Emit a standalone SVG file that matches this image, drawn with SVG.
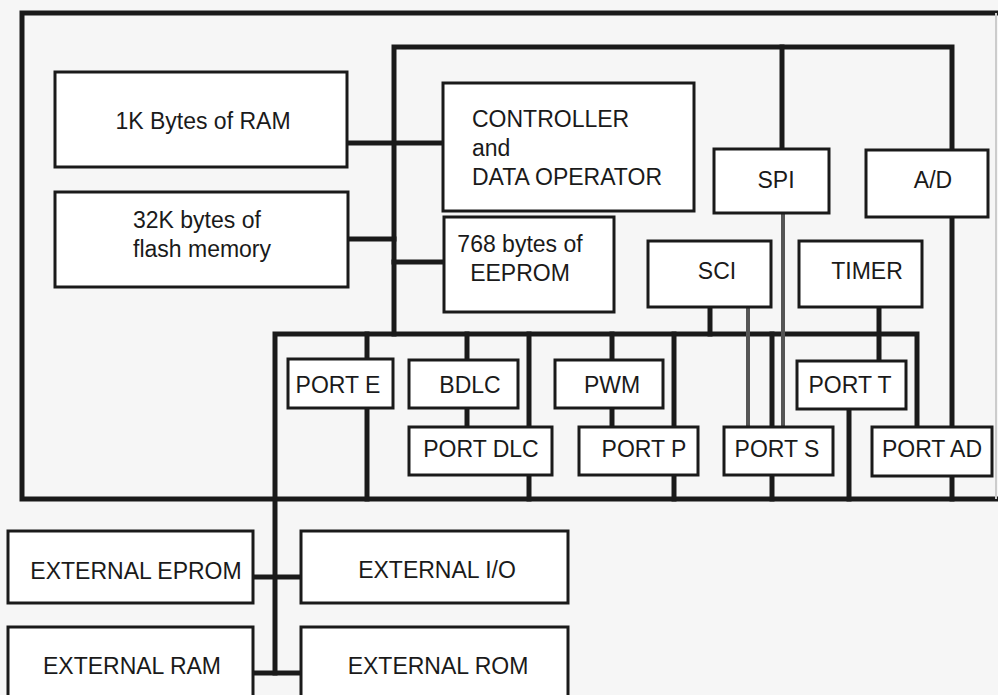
<svg xmlns="http://www.w3.org/2000/svg" width="998" height="695" viewBox="0 0 998 695">
<style>
.box{fill:#fff;stroke:#1a1a1a;stroke-width:3}
.bus{fill:none;stroke:#1a1a1a;stroke-width:5;stroke-linecap:square}
.bus4{fill:none;stroke:#1a1a1a;stroke-width:4}
.grey{fill:none;stroke:#555;stroke-width:4}
.t{font-family:"Liberation Sans",Arial,sans-serif;font-size:23px;fill:#1a1a1a}
.c{text-anchor:middle}
</style>
<rect x="0" y="0" width="998" height="695" fill="#f6f6f6"/>
<g id="connectors">
  <!-- outer chip boundary -->
  <path class="bus" d="M998 13 H22 V499 H998"/>
  <line x1="996" y1="13" x2="996" y2="499" stroke="#ccc" stroke-width="2"/>
  <!-- upper bus -->
  <path class="bus" d="M394 334 V47 H952 V150"/>
  <line class="bus" x1="782" y1="47" x2="782" y2="149"/>
  <line class="bus" x1="347" y1="143" x2="443" y2="143"/>
  <line class="bus" x1="348" y1="239" x2="394" y2="239"/>
  <line class="bus" x1="394" y1="262" x2="444" y2="262"/>
  <!-- lower bus -->
  <path class="bus" d="M275 673 V334 H917 V427"/>
  <line class="bus" x1="367" y1="334" x2="367" y2="359"/>
  <line class="bus" x1="367" y1="408" x2="367" y2="499"/>
  <line class="bus" x1="467" y1="334" x2="467" y2="360"/>
  <line class="bus" x1="467" y1="408" x2="467" y2="427"/>
  <line class="bus" x1="529" y1="334" x2="529" y2="427"/>
  <line class="bus" x1="529" y1="475" x2="529" y2="499"/>
  <line class="bus" x1="612" y1="334" x2="612" y2="360"/>
  <line class="bus" x1="612" y1="408" x2="612" y2="427"/>
  <line class="bus" x1="674" y1="334" x2="674" y2="427"/>
  <line class="bus" x1="674" y1="475" x2="674" y2="499"/>
  <line class="bus" x1="772" y1="334" x2="772" y2="427"/>
  <line class="bus" x1="772" y1="475" x2="772" y2="499"/>
  <line class="bus" x1="710" y1="307" x2="710" y2="334"/>
  <line class="grey" x1="748" y1="307" x2="748" y2="427"/>
  <line class="grey" x1="783" y1="213" x2="783" y2="427"/>
  <line class="bus" x1="879" y1="307" x2="879" y2="361"/>
  <line class="bus" x1="849" y1="409" x2="849" y2="499"/>
  <line class="bus" x1="952" y1="217" x2="952" y2="427"/>
  <line class="bus" x1="952" y1="476" x2="952" y2="499"/>
  <!-- external bus -->
  <line class="bus" x1="253" y1="577" x2="301" y2="577"/>
  <line class="bus" x1="253" y1="673" x2="301" y2="673"/>
</g>
<g id="ram"><rect class="box" x="55" y="72" width="292" height="95"/><text class="t c" x="203" y="129">1K Bytes of RAM</text></g>
<g id="flash"><rect class="box" x="55" y="192" width="293" height="95"/><text class="t" x="133" y="228">32K bytes of</text><text class="t" x="133" y="257">flash memory</text></g>
<g id="controller"><rect class="box" x="443" y="83" width="251" height="128"/><text class="t" x="472" y="127">CONTROLLER</text><text class="t" x="472" y="156">and</text><text class="t" x="472" y="185">DATA OPERATOR</text></g>
<g id="spi"><rect class="box" x="714" y="149" width="115" height="64"/><text class="t c" x="776" y="188">SPI</text></g>
<g id="ad"><rect class="box" x="866" y="150" width="122" height="67"/><text class="t c" x="933" y="188">A/D</text></g>
<g id="eeprom"><rect class="box" x="444" y="217" width="170" height="95"/><text class="t c" x="520" y="252">768 bytes of</text><text class="t c" x="520" y="281">EEPROM</text></g>
<g id="sci"><rect class="box" x="648" y="241" width="123" height="66"/><text class="t c" x="717" y="279">SCI</text></g>
<g id="timer"><rect class="box" x="799" y="241" width="123" height="66"/><text class="t c" x="867" y="279">TIMER</text></g>
<g id="porte"><rect class="box" x="288" y="359" width="105" height="49"/><text class="t c" x="338" y="393">PORT E</text></g>
<g id="bdlc"><rect class="box" x="409" y="360" width="109" height="48"/><text class="t c" x="470" y="393">BDLC</text></g>
<g id="pwm"><rect class="box" x="555" y="360" width="108" height="48"/><text class="t c" x="612" y="393">PWM</text></g>
<g id="portt"><rect class="box" x="797" y="361" width="109" height="48"/><text class="t c" x="850" y="393">PORT T</text></g>
<g id="portdlc"><rect class="box" x="409" y="427" width="143" height="48"/><text class="t c" x="481" y="457">PORT DLC</text></g>
<g id="portp"><rect class="box" x="579" y="427" width="119" height="48"/><text class="t c" x="644" y="457">PORT P</text></g>
<g id="ports"><rect class="box" x="724" y="427" width="109" height="48"/><text class="t c" x="777" y="457">PORT S</text></g>
<g id="portad"><rect class="box" x="872" y="427" width="120" height="49"/><text class="t c" x="932" y="457">PORT AD</text></g>
<g id="exteprom"><rect class="box" x="8" y="531" width="245" height="72"/><text class="t c" x="136" y="579">EXTERNAL EPROM</text></g>
<g id="extio"><rect class="box" x="301" y="531" width="267" height="72"/><text class="t c" x="437" y="578">EXTERNAL I/O</text></g>
<g id="extram"><rect class="box" x="8" y="627" width="245" height="80"/><text class="t c" x="132" y="674">EXTERNAL RAM</text></g>
<g id="extrom"><rect class="box" x="301" y="627" width="267" height="80"/><text class="t c" x="438" y="674">EXTERNAL ROM</text></g>
</svg>
